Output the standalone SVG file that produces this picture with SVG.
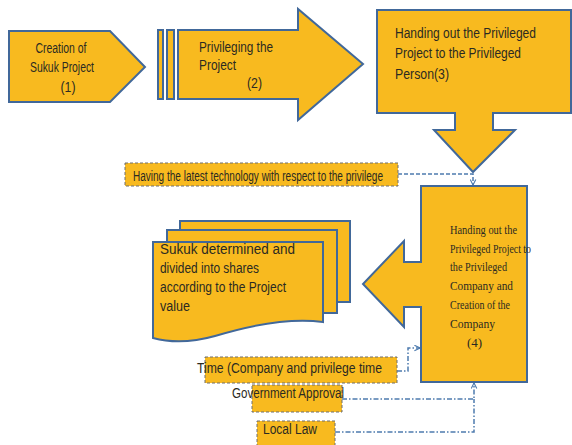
<svg xmlns="http://www.w3.org/2000/svg" width="572" height="445" viewBox="0 0 572 445">
<defs>
<style>
.shape{fill:#F8BA1F;stroke:#41689A;stroke-width:2;stroke-linejoin:miter}
.note{fill:#F8BA1F;stroke:#6E6E6E;stroke-width:1;stroke-dasharray:3 2}
.t{font-family:"Liberation Sans",Arial,sans-serif;fill:#2B2A22;font-size:14px}
.ts{font-family:"Liberation Serif","Times New Roman",serif;fill:#2B2A22;font-size:13px}
.dash{fill:none;stroke:#4E7BAE;stroke-width:1.5;stroke-dasharray:4 2}
.dd{fill:none;stroke:#4E7BAE;stroke-width:1.5;stroke-dasharray:5 2 1.5 2}
</style>
<marker id="ah" viewBox="0 0 10 10" refX="9" refY="5" markerWidth="7" markerHeight="7" markerUnits="userSpaceOnUse" orient="auto">
<path d="M1,1 L9,5 L1,9" fill="none" stroke="#4E7BAE" stroke-width="1.6"/>
</marker>
</defs>
<rect width="572" height="445" fill="#FFFFFF"/>

<g id="connectors">
<path class="dash" d="M398,174 H473 V185" marker-end="url(#ah)"/>
<path class="dd" d="M397,371 H408 V348 H420" marker-end="url(#ah)"/>
<path class="dd" d="M342,399 H474 V383" marker-end="url(#ah)"/>
<path class="dd" d="M335,432 H474 V399"/>
</g>

<g id="node1">
<polygon class="shape" points="9,31 110,31 145,67 110,102 9,102"/>
<text class="t" x="61" y="53" text-anchor="middle" textLength="51" lengthAdjust="spacingAndGlyphs">Creation of</text>
<text class="t" x="62" y="72" text-anchor="middle" textLength="64" lengthAdjust="spacingAndGlyphs">Sukuk Project</text>
<text class="t" x="68" y="92" text-anchor="middle" textLength="15" lengthAdjust="spacingAndGlyphs">(1)</text>
</g>

<g id="node2">
<rect class="shape" x="158" y="30" width="5" height="69" stroke-width="1.5"/>
<rect class="shape" x="167" y="30" width="7" height="69" stroke-width="1.5"/>
<polygon class="shape" points="178,30 298,30 298,9 363,64 298,120 298,99 178,99"/>
<text class="t" x="199" y="52" textLength="74" lengthAdjust="spacingAndGlyphs">Privileging the</text>
<text class="t" x="199" y="70" textLength="37" lengthAdjust="spacingAndGlyphs">Project</text>
<text class="t" x="247" y="88" textLength="15" lengthAdjust="spacingAndGlyphs">(2)</text>
</g>

<g id="node3">
<polygon class="shape" points="377,10 571,10 571,113 493,113 493,130 515,130 473,172 434,130 455,130 455,113 377,113"/>
<text class="t" x="395" y="38" textLength="141" lengthAdjust="spacingAndGlyphs">Handing out the Privileged</text>
<text class="t" x="395" y="58" textLength="126" lengthAdjust="spacingAndGlyphs">Project to the Privileged</text>
<text class="t" x="395" y="79" textLength="54" lengthAdjust="spacingAndGlyphs">Person(3)</text>
</g>

<g id="note-tech">
<rect class="note" x="125" y="163" width="273" height="23"/>
<text class="t" x="133" y="181" font-size="11" textLength="250" lengthAdjust="spacingAndGlyphs">Having the latest technology with respect to the privilege</text>
</g>

<g id="node4">
<polygon class="shape" points="421,186 527,186 527,382 421,382 421,307 404,307 404,327 363,284 404,241 404,262 421,262"/>
<text class="ts" x="450" y="234" textLength="67" lengthAdjust="spacingAndGlyphs">Handing out the</text>
<text class="ts" x="450" y="253" textLength="81" lengthAdjust="spacingAndGlyphs">Privileged Project to</text>
<text class="ts" x="450" y="271" textLength="57" lengthAdjust="spacingAndGlyphs">the Privileged</text>
<text class="ts" x="450" y="290" textLength="63" lengthAdjust="spacingAndGlyphs">Company and</text>
<text class="ts" x="450" y="309" textLength="60" lengthAdjust="spacingAndGlyphs">Creation of the</text>
<text class="ts" x="450" y="328" textLength="45" lengthAdjust="spacingAndGlyphs">Company</text>
<text class="ts" x="467" y="347" font-size="14">(4)</text>
</g>

<g id="node5">
<path class="shape" d="M180,221 H350 V302 H180 Z"/>
<path class="shape" d="M167,230 H337 V313 H167 Z"/>
<path class="shape" d="M153,242 H323 V322 C295,318 255,324 215,336 C190,343 168,342 153,338 Z"/>
<text class="t" x="160" y="254" textLength="135" lengthAdjust="spacingAndGlyphs">Sukuk determined and</text>
<text class="t" x="160" y="273" textLength="99" lengthAdjust="spacingAndGlyphs">divided into shares</text>
<text class="t" x="160" y="292" textLength="126" lengthAdjust="spacingAndGlyphs">according to the Project</text>
<text class="t" x="160" y="311" textLength="30" lengthAdjust="spacingAndGlyphs">value</text>
</g>

<g id="note-time">
<rect class="note" x="205" y="357" width="192" height="26"/>
<text class="t" x="197" y="373" textLength="185" lengthAdjust="spacingAndGlyphs">Time (Company and privilege time</text>
</g>

<g id="note-gov">
<rect class="note" x="252" y="385" width="90" height="27"/>
<text class="t" x="232" y="398" textLength="112" lengthAdjust="spacingAndGlyphs">Government Approval</text>
</g>

<g id="note-law">
<rect class="note" x="257" y="421" width="78" height="30"/>
<text class="t" x="263" y="434" textLength="54" lengthAdjust="spacingAndGlyphs">Local Law</text>
</g>
</svg>
